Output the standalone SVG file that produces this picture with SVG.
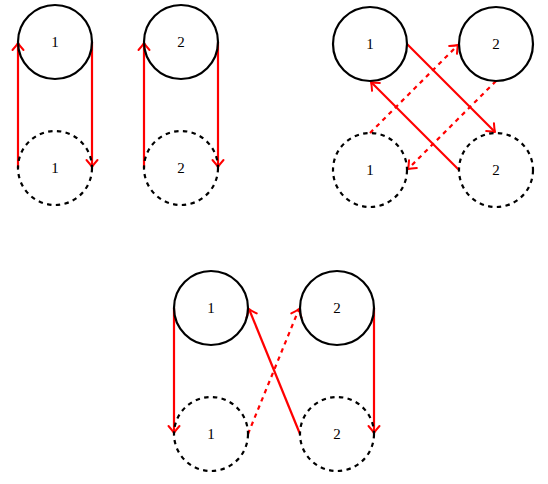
<svg xmlns="http://www.w3.org/2000/svg" width="548" height="484" viewBox="0 0 548 484">
<style>
.n{fill:none;stroke:#000;stroke-width:2.2}
.d{stroke-dasharray:4.4 4.4}
.t{font-family:"Liberation Serif","DejaVu Serif",serif;font-size:15px;text-anchor:middle;dominant-baseline:central;fill:#000}
.e{fill:none;stroke:#ff0000;stroke-width:2.2;marker-end:url(#ah)}
.ed{stroke-dasharray:4.4 4.4}
</style>
<defs>
<marker id="ah" markerUnits="userSpaceOnUse" markerWidth="20" markerHeight="20" refX="0" refY="0" viewBox="-10 -10 20 20" orient="auto" overflow="visible">
<path d="M-7,-5.5 Q-2.5,-1.5 0,0 Q-2.5,1.5 -7,5.5" fill="none" stroke="#ff0000" stroke-width="2" stroke-linecap="round" stroke-linejoin="round" stroke-dasharray="none"/>
</marker>
</defs>
<g id="connectors">
<path class="e" d="M18,168 L18,43"/>
<path class="e" d="M92,42 L92,167"/>
<path class="e" d="M144,168 L144,43"/>
<path class="e" d="M218,42 L218,167"/>
<path class="e" d="M407,44 L495,132"/>
<path class="e" d="M459,170 L371,82"/>
<path class="e ed" d="M370,133 L458,45"/>
<path class="e ed" d="M496,81 L408,169"/>
<path class="e" d="M174,308 L174,433"/>
<path class="e" d="M374,308 L374,433"/>
<path class="e" d="M300,434 L249,309"/>
<path class="e ed" d="M248,434 L299,309"/>
</g>
<g id="a1"><circle class="n" cx="55" cy="42" r="37"/><text class="t" x="55" y="42">1</text></g>
<g id="a2"><circle class="n" cx="181" cy="42" r="37"/><text class="t" x="181" y="42">2</text></g>
<g id="a1b"><circle class="n d" cx="55" cy="168" r="37"/><text class="t" x="55" y="168">1</text></g>
<g id="a2b"><circle class="n d" cx="181" cy="168" r="37"/><text class="t" x="181" y="168">2</text></g>
<g id="b1"><circle class="n" cx="370" cy="44" r="37"/><text class="t" x="370" y="44">1</text></g>
<g id="b2"><circle class="n" cx="496" cy="44" r="37"/><text class="t" x="496" y="44">2</text></g>
<g id="b1b"><circle class="n d" cx="370" cy="170" r="37"/><text class="t" x="370" y="170">1</text></g>
<g id="b2b"><circle class="n d" cx="496" cy="170" r="37"/><text class="t" x="496" y="170">2</text></g>
<g id="c1"><circle class="n" cx="211" cy="308" r="37"/><text class="t" x="211" y="308">1</text></g>
<g id="c2"><circle class="n" cx="337" cy="308" r="37"/><text class="t" x="337" y="308">2</text></g>
<g id="c1b"><circle class="n d" cx="211" cy="434" r="37"/><text class="t" x="211" y="434">1</text></g>
<g id="c2b"><circle class="n d" cx="337" cy="434" r="37"/><text class="t" x="337" y="434">2</text></g>
</svg>
